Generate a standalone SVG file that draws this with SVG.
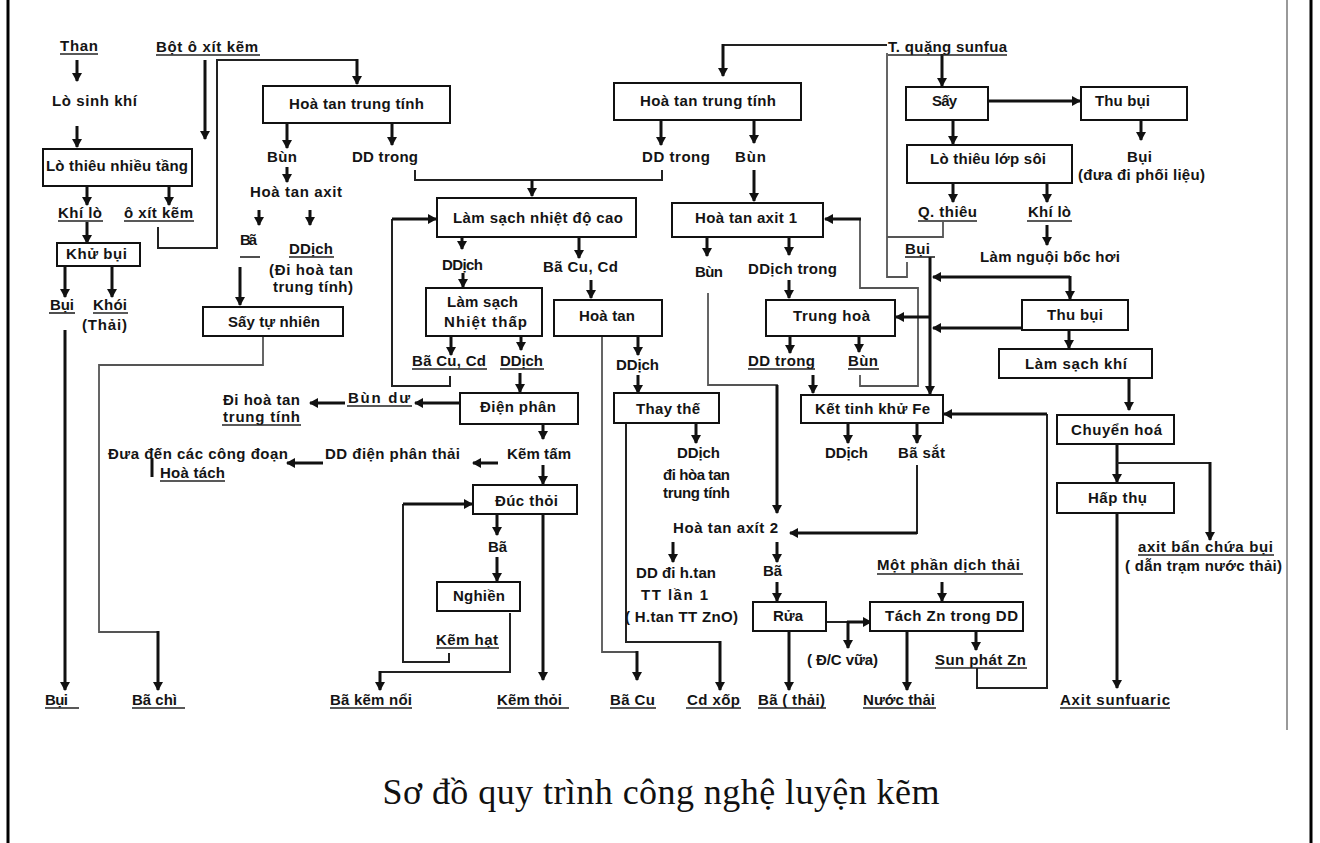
<svg xmlns="http://www.w3.org/2000/svg" width="1320" height="843" viewBox="0 0 1320 843">
<defs>
<style>
.t{font-family:"Liberation Sans",Arial,sans-serif;font-weight:bold;font-size:15px;fill:#141414}
.cap{font-family:"Liberation Serif","Times New Roman",serif;font-size:36px;fill:#111}
.b{fill:#fff;stroke:#111;stroke-width:2}
.a{stroke:#111;stroke-width:3;fill:none;marker-end:url(#ah)}
.l{stroke:#222;stroke-width:2;fill:none}
.g{stroke:#555;stroke-width:1.8;fill:none}
.u{stroke:#222;stroke-width:1.6}
</style>
<marker id="ah" viewBox="0 0 9 10" refX="8" refY="5" markerWidth="9" markerHeight="10" orient="auto" markerUnits="userSpaceOnUse"><path d="M0,0 L9,5 L0,10 z" fill="#111"/></marker>
</defs>
<rect width="1320" height="843" fill="#fff"/>
<!-- page frame -->
<g id="frame">
<line x1="8" y1="0" x2="8" y2="843" stroke="#000" stroke-width="3"/>
<line x1="1311" y1="0" x2="1311" y2="843" stroke="#000" stroke-width="3"/>
<line x1="1287" y1="0" x2="1287" y2="730" stroke="#777" stroke-width="1.5"/>
</g>

<g id="connectors">
<!-- coal gas line -->
<line class="a" x1="77" y1="60" x2="77" y2="81"/>
<line class="a" x1="77" y1="126" x2="77" y2="147"/>
<line class="a" x1="87" y1="186" x2="87" y2="205"/>
<line class="a" x1="169" y1="186" x2="169" y2="205"/>
<line class="a" x1="87" y1="222" x2="87" y2="243"/>
<line class="a" x1="65" y1="266" x2="65" y2="297"/>
<line class="a" x1="112" y1="266" x2="112" y2="297"/>
<line class="a" x1="65" y1="330" x2="65" y2="690"/>
<line class="a" x1="205" y1="60" x2="205" y2="139"/>
<polyline class="l" points="158,227 158,248 217,248 217,60 357,60"/>
<line class="a" x1="357" y1="59" x2="357" y2="84"/>
<!-- left neutral leach -->
<line class="a" x1="287" y1="123" x2="287" y2="148"/>
<line class="a" x1="287" y1="167" x2="287" y2="182"/>
<line class="a" x1="259" y1="210" x2="259" y2="225"/>
<line class="a" x1="310" y1="210" x2="310" y2="225"/>
<line class="a" x1="240" y1="267" x2="240" y2="305"/>
<polyline class="g" points="263,336 263,365 99,365 99,632 158,632"/>
<line class="a" x1="158" y1="631" x2="158" y2="690"/>
<line class="a" x1="392" y1="123" x2="392" y2="145"/>
<polyline class="l" points="415,170 415,180 662,180 662,170"/>
<line class="a" x1="532" y1="180" x2="532" y2="196"/>
<line class="a" x1="661" y1="120" x2="661" y2="145"/>
<polyline class="l" points="450,376 450,386 392,386 392,219"/>
<line class="a" x1="392" y1="219" x2="436" y2="219"/>
<!-- purification and electrolysis -->
<line class="a" x1="462" y1="237" x2="462" y2="249"/>
<line class="a" x1="579" y1="237" x2="579" y2="258"/>
<line class="a" x1="463" y1="273" x2="463" y2="287"/>
<line class="a" x1="591" y1="280" x2="591" y2="298"/>
<line class="a" x1="451" y1="336" x2="451" y2="355"/>
<line class="a" x1="521" y1="336" x2="521" y2="350"/>
<line class="a" x1="520" y1="373" x2="520" y2="392"/>
<line class="a" x1="460" y1="403" x2="415" y2="403"/>
<line class="a" x1="345" y1="403" x2="310" y2="403"/>
<line class="a" x1="543" y1="424" x2="543" y2="439"/>
<line class="a" x1="498" y1="463" x2="473" y2="463"/>
<line class="a" x1="323" y1="463" x2="287" y2="463"/>
<line x1="152" y1="458" x2="152" y2="477" stroke="#111" stroke-width="3"/>
<line class="a" x1="543" y1="465" x2="543" y2="484"/>
<polyline class="l" points="449,653 449,662 403,662 403,504"/>
<line class="a" x1="403" y1="504" x2="472" y2="504"/>
<line class="a" x1="497" y1="514" x2="497" y2="535"/>
<line class="a" x1="497" y1="557" x2="497" y2="581"/>
<polyline class="l" points="510,613 510,672 380,672"/>
<line class="a" x1="380" y1="671" x2="380" y2="690"/>
<line class="a" x1="543" y1="514" x2="543" y2="680"/>
<!-- copper / cadmium -->
<line class="a" x1="638" y1="336" x2="638" y2="355"/>
<line class="a" x1="638" y1="375" x2="638" y2="393"/>
<polyline class="g" points="602,336 602,652 637,652"/>
<line class="a" x1="637" y1="651" x2="637" y2="680"/>
<polyline class="l" points="626,423 626,642 720,642"/>
<line class="a" x1="720" y1="641" x2="720" y2="690"/>
<line class="a" x1="696" y1="423" x2="696" y2="443"/>
<!-- sulfide concentrate branch -->
<line class="l" x1="887" y1="45" x2="723" y2="45"/>
<line class="a" x1="723" y1="44" x2="723" y2="76"/>
<line class="a" x1="754" y1="120" x2="754" y2="143"/>
<line class="a" x1="754" y1="170" x2="754" y2="201"/>
<line class="a" x1="707" y1="237" x2="707" y2="256"/>
<line class="a" x1="789" y1="237" x2="789" y2="255"/>
<polyline class="g" points="708,293 708,385 777,385 777,400"/>
<line class="a" x1="777" y1="385" x2="777" y2="513"/>
<line class="a" x1="789" y1="280" x2="789" y2="298"/>
<line class="a" x1="790" y1="336" x2="790" y2="353"/>
<line class="a" x1="859" y1="336" x2="859" y2="352"/>
<line class="a" x1="813" y1="375" x2="813" y2="393"/>
<polyline class="g" points="860,375 860,386 918,386 918,288 860,288 860,219"/>
<line class="a" x1="861" y1="219" x2="825" y2="219"/>
<polyline class="g" points="887,53 887,277 907,277 907,262"/>
<polyline class="g" points="943,222 943,237 887,237"/>
<line class="a" x1="930" y1="257" x2="930" y2="394"/>
<line class="a" x1="1070" y1="277" x2="933" y2="277"/>
<line class="a" x1="1070" y1="276" x2="1070" y2="299"/>
<line class="a" x1="1022" y1="328" x2="933" y2="328"/>
<line class="a" x1="930" y1="317" x2="896" y2="317"/>
<line class="a" x1="848" y1="423" x2="848" y2="443"/>
<line class="a" x1="917" y1="423" x2="917" y2="443"/>
<polyline class="l" points="917,465 917,533 880,533"/>
<line class="a" x1="917" y1="533" x2="790" y2="533"/>
<line class="a" x1="673" y1="542" x2="673" y2="562"/>
<line class="a" x1="777" y1="542" x2="777" y2="562"/>
<line class="a" x1="777" y1="582" x2="777" y2="601"/>
<line class="l" x1="826" y1="622" x2="848" y2="622"/>
<line class="a" x1="847" y1="622" x2="871" y2="622"/>
<line class="a" x1="848" y1="621" x2="848" y2="648"/>
<line class="a" x1="942" y1="582" x2="942" y2="601"/>
<line class="a" x1="789" y1="631" x2="789" y2="690"/>
<line class="a" x1="907" y1="631" x2="907" y2="690"/>
<line class="a" x1="976" y1="631" x2="976" y2="650"/>
<polyline class="l" points="977,668 977,688 1047,688 1047,414"/>
<line class="a" x1="1047" y1="414" x2="944" y2="414"/>
<!-- roasting and acid plant -->
<line class="a" x1="942" y1="54" x2="942" y2="86"/>
<line class="a" x1="988" y1="101" x2="1080" y2="101"/>
<line class="a" x1="1141" y1="120" x2="1141" y2="140"/>
<line class="a" x1="953" y1="120" x2="953" y2="144"/>
<line class="a" x1="953" y1="183" x2="953" y2="202"/>
<line class="a" x1="1047" y1="183" x2="1047" y2="202"/>
<line class="a" x1="1047" y1="225" x2="1047" y2="245"/>
<line class="a" x1="1069" y1="330" x2="1069" y2="348"/>
<line class="a" x1="1129" y1="378" x2="1129" y2="410"/>
<line class="a" x1="1117" y1="444" x2="1117" y2="482"/>
<polyline class="l" points="1117,463 1210,463 1210,470"/>
<line class="a" x1="1210" y1="462" x2="1210" y2="540"/>
<line class="a" x1="1117" y1="513" x2="1117" y2="688"/>
</g>

<!-- left column -->
<g id="n-than"><text class="t" x="60" y="51" textLength="38">Than</text><line class="u" x1="60" y1="54" x2="98" y2="54"/></g>
<g id="n-bot-oxit-kem"><text class="t" x="156" y="52" textLength="102">Bột ô xít kẽm</text><line class="u" x1="156" y1="55" x2="260" y2="55"/></g>
<g id="n-lo-sinh-khi"><text class="t" x="52" y="106" textLength="85">Lò sinh khí</text></g>
<g id="n-lo-thieu-nhieu-tang"><rect class="b" x="43" y="149" width="149" height="37"/><text class="t" x="46" y="171" textLength="142">Lò thiêu nhiều tầng</text></g>
<g id="n-khi-lo"><text class="t" x="58" y="218" textLength="44">Khí lò</text><line class="u" x1="58" y1="221" x2="103" y2="221"/></g>
<g id="n-oxit-kem"><text class="t" x="124" y="218" textLength="69">ô xít kẽm</text><line class="u" x1="124" y1="221" x2="194" y2="221"/></g>
<g id="n-khu-bui"><rect class="b" x="57" y="243" width="83" height="23"/><text class="t" x="66" y="259" textLength="61">Khử bụi</text></g>
<g id="n-bui-1"><text class="t" x="50" y="310" textLength="24">Bụi</text><line class="u" x1="49" y1="313" x2="75" y2="313"/></g>
<g id="n-khoi"><text class="t" x="93" y="310" textLength="34">Khói</text><line class="u" x1="93" y1="313" x2="128" y2="313"/><text class="t" x="82" y="330" textLength="45">(Thải)</text></g>
<g id="n-bui-out"><text class="t" x="45" y="705" textLength="23">Bụi</text><line class="u" x1="45" y1="708" x2="79" y2="708"/></g>
<g id="n-ba-chi"><text class="t" x="132" y="705" textLength="45">Bã chì</text><line class="u" x1="132" y1="708" x2="185" y2="708"/></g>

<!-- oxide leaching -->
<g id="n-hoa-tan-trung-tinh-1"><rect class="b" x="263" y="86" width="187" height="37"/><text class="t" x="289" y="109" textLength="135">Hoà tan trung tính</text></g>
<g id="n-bun-1"><text class="t" x="267" y="162" textLength="30">Bùn</text></g>
<g id="n-hoa-tan-axit"><text class="t" x="250" y="197" textLength="92">Hoà tan axit</text></g>
<g id="n-ba-1"><text class="t" x="240" y="245" textLength="17">Bã</text><line class="u" x1="240" y1="257" x2="260" y2="257"/></g>
<g id="n-ddich-1"><text class="t" x="289" y="254" textLength="44">DDịch</text><line class="u" x1="289" y1="257" x2="334" y2="257"/><text class="t" x="269" y="275" textLength="84">(Đi hoà tan</text><text class="t" x="273" y="292" textLength="80">trung tính)</text></g>
<g id="n-say-tu-nhien"><rect class="b" x="203" y="307" width="140" height="29"/><text class="t" x="228" y="327" textLength="92">Sấy tự nhiên</text></g>
<g id="n-dd-trong-1"><text class="t" x="352" y="162" textLength="66">DD trong</text></g>
<g id="n-lam-sach-nhiet-do-cao"><rect class="b" x="437" y="198" width="199" height="39"/><text class="t" x="453" y="223" textLength="170">Làm sạch nhiệt độ cao</text></g>
<g id="n-ddich-2"><text class="t" x="442" y="270" textLength="41">DDịch</text></g>
<g id="n-ba-cu-cd-1"><text class="t" x="543" y="272" textLength="75">Bã Cu, Cd</text></g>
<g id="n-lam-sach-nhiet-thap"><rect class="b" x="426" y="288" width="116" height="48"/><text class="t" x="447" y="307" textLength="71">Làm sạch</text><text class="t" x="444" y="327" textLength="83">Nhiệt thấp</text></g>
<g id="n-hoa-tan"><rect class="b" x="554" y="300" width="108" height="36"/><text class="t" x="579" y="321" textLength="56">Hoà tan</text></g>
<g id="n-ba-cu-cd-2"><text class="t" x="412" y="366" textLength="74">Bã Cu, Cd</text><line class="u" x1="412" y1="369" x2="487" y2="369"/></g>
<g id="n-ddich-3"><text class="t" x="500" y="366" textLength="43">DDịch</text><line class="u" x1="500" y1="369" x2="544" y2="369"/></g>
<g id="n-dien-phan"><rect class="b" x="460" y="393" width="118" height="31"/><text class="t" x="480" y="412" textLength="76">Điện phân</text></g>
<g id="n-bun-du"><text class="t" x="348" y="403" textLength="62">Bùn dư</text><line class="u" x1="347" y1="406" x2="412" y2="406"/></g>
<g id="n-di-hoa-tan"><text class="t" x="223" y="405" textLength="77">Đi hoà tan</text><text class="t" x="223" y="422" textLength="77">trung tính</text><line class="u" x1="222" y1="425" x2="301" y2="425"/></g>
<g id="n-dua-den"><text class="t" x="108" y="459" textLength="180">Đưa đến các công đoạn</text><text class="t" x="160" y="478" textLength="65">Hoà tách</text><line class="u" x1="160" y1="481" x2="225" y2="481"/></g>
<g id="n-dd-dien-phan-thai"><text class="t" x="325" y="459" textLength="135">DD điện phân thải</text></g>
<g id="n-kem-tam"><text class="t" x="507" y="459" textLength="64">Kẽm tấm</text></g>
<g id="n-duc-thoi"><rect class="b" x="473" y="485" width="104" height="29"/><text class="t" x="495" y="506" textLength="63">Đúc thỏi</text></g>
<g id="n-ba-2"><text class="t" x="488" y="552" textLength="19">Bã</text></g>
<g id="n-nghien"><rect class="b" x="437" y="582" width="83" height="29"/><text class="t" x="453" y="601" textLength="52">Nghiền</text></g>
<g id="n-kem-hat"><text class="t" x="436" y="645" textLength="62">Kẽm hạt</text><line class="u" x1="436" y1="648" x2="499" y2="648"/></g>
<g id="n-ba-kem-noi"><text class="t" x="330" y="705" textLength="82">Bã kẽm nổi</text><line class="u" x1="330" y1="708" x2="412" y2="708"/></g>
<g id="n-kem-thoi"><text class="t" x="497" y="705" textLength="65">Kẽm thỏi</text><line class="u" x1="497" y1="708" x2="569" y2="708"/></g>
<g id="n-ddich-4"><text class="t" x="616" y="370" textLength="43">DDịch</text></g>
<g id="n-thay-the"><rect class="b" x="614" y="393" width="105" height="30"/><text class="t" x="636" y="414" textLength="64">Thay thế</text></g>
<g id="n-ddich-5"><text class="t" x="677" y="458" textLength="43">DDịch</text><text class="t" x="663" y="480" textLength="67">đi hòa tan</text><text class="t" x="663" y="498" textLength="67">trung tính</text></g>
<g id="n-dd-di-htan"><text class="t" x="636" y="578" textLength="80">DD đi h.tan</text><text class="t" x="641" y="600" textLength="67">TT lần 1</text><text class="t" x="625" y="622" textLength="113">( H.tan TT ZnO)</text></g>
<g id="n-ba-cu"><text class="t" x="610" y="705" textLength="45">Bã Cu</text><line class="u" x1="610" y1="708" x2="656" y2="708"/></g>
<g id="n-cd-xop"><text class="t" x="687" y="705" textLength="53">Cd xốp</text><line class="u" x1="686" y1="708" x2="741" y2="708"/></g>

<!-- sulfide concentrate leaching -->
<g id="n-hoa-tan-trung-tinh-2"><rect class="b" x="614" y="83" width="187" height="37"/><text class="t" x="640" y="106" textLength="136">Hoà tan trung tính</text></g>
<g id="n-dd-trong-2"><text class="t" x="642" y="162" textLength="68">DD trong</text></g>
<g id="n-bun-2"><text class="t" x="735" y="162" textLength="31">Bùn</text></g>
<g id="n-hoa-tan-axit-1"><rect class="b" x="672" y="203" width="151" height="34"/><text class="t" x="695" y="223" textLength="102">Hoà tan axit 1</text></g>
<g id="n-bun-3"><text class="t" x="695" y="277" textLength="28">Bùn</text></g>
<g id="n-ddich-trong"><text class="t" x="748" y="274" textLength="89">DDịch trong</text></g>
<g id="n-trung-hoa"><rect class="b" x="766" y="300" width="129" height="36"/><text class="t" x="793" y="321" textLength="77">Trung hoà</text></g>
<g id="n-dd-trong-3"><text class="t" x="748" y="366" textLength="67">DD trong</text><line class="u" x1="748" y1="369" x2="815" y2="369"/></g>
<g id="n-bun-4"><text class="t" x="848" y="366" textLength="30">Bùn</text><line class="u" x1="848" y1="369" x2="879" y2="369"/></g>
<g id="n-ket-tinh-khu-fe"><rect class="b" x="801" y="395" width="142" height="28"/><text class="t" x="815" y="414" textLength="115">Kết tinh khử Fe</text></g>
<g id="n-ddich-6"><text class="t" x="825" y="458" textLength="43">DDịch</text></g>
<g id="n-ba-sat"><text class="t" x="898" y="458" textLength="47">Bã sắt</text></g>
<g id="n-hoa-tan-axit-2"><text class="t" x="673" y="533" textLength="105">Hoà tan axít 2</text></g>
<g id="n-ba-3"><text class="t" x="763" y="576" textLength="19">Bã</text></g>
<g id="n-rua"><rect class="b" x="753" y="602" width="73" height="29"/><text class="t" x="773" y="621" textLength="30">Rửa</text></g>
<g id="n-dc-vua"><text class="t" x="807" y="665" textLength="71">( Đ/C vữa)</text></g>
<g id="n-mot-phan-dich-thai"><text class="t" x="877" y="570" textLength="143">Một phần dịch thải</text><line class="u" x1="877" y1="574" x2="1023" y2="574"/></g>
<g id="n-tach-zn"><rect class="b" x="870" y="602" width="153" height="29"/><text class="t" x="885" y="621" textLength="133">Tách Zn trong DD</text></g>
<g id="n-sun-phat-zn"><text class="t" x="935" y="665" textLength="91">Sun phát Zn</text><line class="u" x1="935" y1="668" x2="1027" y2="668"/></g>
<g id="n-ba-thai"><text class="t" x="758" y="705" textLength="67">Bã ( thải)</text><line class="u" x1="758" y1="708" x2="826" y2="708"/></g>
<g id="n-nuoc-thai"><text class="t" x="863" y="705" textLength="72">Nước thải</text><line class="u" x1="863" y1="708" x2="936" y2="708"/></g>

<!-- roasting and sulfuric acid -->
<g id="n-t-quang-sunfua"><text class="t" x="888" y="52" textLength="119">T. quặng sunfua</text><line class="u" x1="888" y1="55" x2="1007" y2="55"/></g>
<g id="n-say"><rect class="b" x="906" y="87" width="82" height="33"/><text class="t" x="932" y="106" textLength="25">Sấy</text></g>
<g id="n-thu-bui-1"><rect class="b" x="1081" y="87" width="106" height="33"/><text class="t" x="1095" y="106" textLength="55">Thu bụi</text></g>
<g id="n-bui-2"><text class="t" x="1127" y="162" textLength="25">Bụi</text><text class="t" x="1078" y="180" textLength="127">(đưa đi phối liệu)</text></g>
<g id="n-lo-thieu-lop-soi"><rect class="b" x="907" y="145" width="165" height="38"/><text class="t" x="930" y="164" textLength="116">Lò thiêu lớp sôi</text></g>
<g id="n-q-thieu"><text class="t" x="918" y="217" textLength="59">Q. thiêu</text><line class="u" x1="918" y1="221" x2="977" y2="221"/></g>
<g id="n-khi-lo-2"><text class="t" x="1028" y="217" textLength="43">Khí lò</text><line class="u" x1="1027" y1="221" x2="1072" y2="221"/></g>
<g id="n-bui-3"><text class="t" x="905" y="254" textLength="25">Bụi</text><line class="u" x1="905" y1="257" x2="935" y2="257"/></g>
<g id="n-lam-nguoi"><text class="t" x="980" y="262" textLength="140">Làm nguội bốc hơi</text></g>
<g id="n-thu-bui-2"><rect class="b" x="1022" y="300" width="106" height="30"/><text class="t" x="1047" y="320" textLength="56">Thu bụi</text></g>
<g id="n-lam-sach-khi"><rect class="b" x="999" y="349" width="153" height="29"/><text class="t" x="1025" y="369" textLength="102">Làm sạch khí</text></g>
<g id="n-chuyen-hoa"><rect class="b" x="1057" y="415" width="117" height="29"/><text class="t" x="1071" y="435" textLength="91">Chuyển hoá</text></g>
<g id="n-hap-thu"><rect class="b" x="1057" y="483" width="117" height="30"/><text class="t" x="1088" y="503" textLength="59">Hấp thụ</text></g>
<g id="n-axit-ban"><text class="t" x="1138" y="552" textLength="135">axit bẩn chứa bụi</text><line class="u" x1="1138" y1="555" x2="1274" y2="555"/><text class="t" x="1125" y="571" textLength="157">( dẫn trạm nước thải)</text></g>
<g id="n-axit-sunfuaric"><text class="t" x="1060" y="705" textLength="110">Axit sunfuaric</text><line class="u" x1="1060" y1="708" x2="1170" y2="708"/></g>

<text class="cap" x="661" y="804" text-anchor="middle" textLength="557">Sơ đồ quy trình công nghệ luyện kẽm</text>
</svg>
